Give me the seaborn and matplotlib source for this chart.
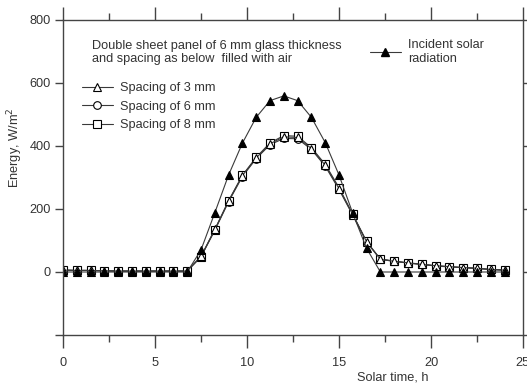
import numpy as np
import pandas as pd
import matplotlib
matplotlib.use("Agg")
import matplotlib.pyplot as plt
from matplotlib.lines import Line2D
import seaborn as sns

hours = [0, 0.75, 1.5, 2.25, 3, 3.75, 4.5, 5.25, 6, 6.75,
         7.5, 8.25, 9, 9.75, 10.5, 11.25, 12, 12.75, 13.5, 14.25, 15, 15.75, 16.5,
         17.25, 18, 18.75, 19.5, 20.25, 21, 21.75, 22.5, 23.25, 24]

incident = [0, 0, 0, 0, 0, 0, 0, 0, 0, 0,
            70, 188, 308, 409, 491, 544, 559, 544, 491, 411, 308, 186, 75,
            0, 0, 0, 0, 0, 0, 0, 0, 0, 0]

spacing_3mm = [6, 5, 5, 4, 3, 3, 3, 3, 3, 3,
               50, 135, 226, 306, 362, 407, 429, 427, 392, 339, 265, 182, 96,
               40, 34, 29, 24, 20, 17, 14, 12, 8, 6]

spacing_6mm = [6, 5, 5, 4, 3, 3, 3, 3, 3, 3,
               48, 132, 223, 303, 360, 404, 424, 423, 389, 336, 262, 180, 95,
               40, 34, 28, 24, 19, 16, 14, 11, 8, 6]

spacing_8mm = [6, 5, 5, 4, 3, 3, 3, 3, 3, 3,
               49, 134, 226, 307, 364, 410, 433, 431, 395, 342, 268, 183, 97,
               41, 35, 29, 25, 20, 17, 14, 12, 8, 6]

labels_spacing = ["Spacing of 3 mm", "Spacing of 6 mm", "Spacing of 8 mm"]
label_incident = "Incident solar\nradiation"
note_text = "Double sheet panel of 6 mm glass thickness\nand spacing as below  filled with air"

FS = 9.2
sns.set_theme(style="ticks")
plt.rcParams['font.family'] = ['Liberation Sans', 'DejaVu Sans']
plt.rcParams.update({'font.size': FS, 'axes.labelsize': FS, 'xtick.labelsize': FS,
                     'ytick.labelsize': FS, 'legend.fontsize': FS})

dark = "#333333"
linec = "#3a3a3a"

fig = plt.figure(figsize=(5.27, 3.85), dpi=100)
ax = fig.add_axes([63/527, 1-335/385, 460/527, 315/385])

common = dict(ax=ax, color=linec, linewidth=0.8, markersize=5.5,
              markeredgecolor="black", markeredgewidth=0.8)
sns.lineplot(x=hours, y=spacing_6mm, marker="o", markerfacecolor="white", **common)
sns.lineplot(x=hours, y=spacing_8mm, marker="s", markerfacecolor="white", **common)
sns.lineplot(x=hours, y=spacing_3mm, marker="^", markerfacecolor="white", **common)
sns.lineplot(x=hours, y=incident, marker="^", markerfacecolor="black", **common)

ax.set_xlim(0, 25)
ax.set_ylim(-200, 800)
ax.set_xticks([0, 5, 10, 15, 20, 25])
ax.set_xticks([2.5, 7.5, 12.5, 17.5, 22.5], minor=True)
ax.set_yticks([-200, 0, 200, 400, 600, 800])
ax.set_yticklabels(["", "0", "200", "400", "600", "800"])

for sp in ax.spines.values():
    sp.set_color("#444444")
    sp.set_linewidth(1.0)
    sp.set_visible(True)

ax.tick_params(axis="both", which="both", direction="out", color="#444444",
               labelcolor=dark, top=True, right=True, labeltop=False, labelright=False)
ax.tick_params(axis="x", which="major", length=9.4, width=1.0, pad=6.4)
ax.tick_params(axis="x", which="minor", length=5, width=1.0)
ax.tick_params(axis="y", which="major", length=6, width=1.0, pad=3)

ax.set_xlabel("Solar time, h", color=dark)
ax.xaxis.set_label_coords((393-63)/460, -(371-335)/315)
ax.set_ylabel("Energy, W/m$^2$", color=dark)
ax.yaxis.set_label_coords(-(63-25)/460, (335-148)/315)

ax.text((92-63)/460, (335-40)/315, note_text, transform=ax.transAxes,
        ha="left", va="top", color=dark, linespacing=1.1)

h_open = [Line2D([], [], color=linec, lw=0.8, marker=m, markersize=5.5,
                 markerfacecolor="white", markeredgecolor="black", markeredgewidth=0.8)
          for m in ["^", "o", "s"]]
leg1 = ax.legend(h_open, labels_spacing, loc="upper left", frameon=False,
                 bbox_to_anchor=(82/527, 1-82/385), bbox_transform=fig.transFigure,
                 borderpad=0, borderaxespad=0, handlelength=2.4, handletextpad=0.55,
                 labelspacing=0.52, labelcolor=dark)
ax.add_artist(leg1)
h_inc = [Line2D([], [], color=linec, lw=0.8, marker="^", markersize=6,
                markerfacecolor="black", markeredgecolor="black")]
leg2 = ax.legend(h_inc, [label_incident], loc="upper left", frameon=False,
                 bbox_to_anchor=(370/527, 1-39/385), bbox_transform=fig.transFigure,
                 borderpad=0, borderaxespad=0, handlelength=2.4, handletextpad=0.55,
                 labelcolor=dark)
for t in leg2.get_texts():
    t.set_linespacing(1.2)

fig.savefig("out.png", dpi=100)
